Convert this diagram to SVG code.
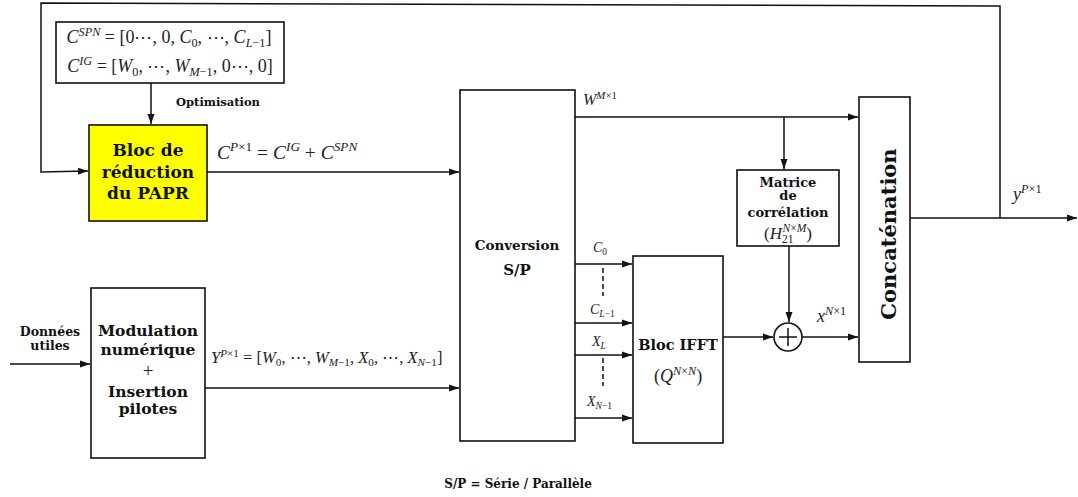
<svg xmlns="http://www.w3.org/2000/svg" width="1078" height="497" viewBox="0 0 1078 497">
<style>
.ln{fill:none;stroke:#111;stroke-width:1.5}
.bx{fill:#fff;stroke:#111;stroke-width:1.6}
.ar{marker-end:url(#ah)}
.b{font-family:"DejaVu Serif","Liberation Serif",serif;font-weight:bold;fill:#111;text-anchor:middle}
.m{font-family:"Liberation Serif","DejaVu Serif",serif;fill:#222}
.i{font-style:italic}
.s{font-size:0.68em;font-style:italic}
.u{font-size:0.68em}
</style>
<defs>
<marker id="ah" markerUnits="userSpaceOnUse" markerWidth="11" markerHeight="8" refX="10" refY="4" orient="auto">
<path d="M0,0.5 L10,4 L0,7.5 z" fill="#111"/>
</marker>
</defs>
<g id="connectors">
<polyline class="ln" points="1000,218 1000,6 41,3 41,172 88,171" marker-end="url(#ah)"/>
<line class="ln ar" x1="151" y1="83" x2="151" y2="124"/>
<line class="ln ar" x1="207" y1="172" x2="459" y2="172"/>
<line class="ln ar" x1="575" y1="117" x2="858" y2="117"/>
<line class="ln ar" x1="784" y1="117" x2="784" y2="169"/>
<line class="ln ar" x1="789" y1="246" x2="789" y2="322"/>
<line class="ln ar" x1="723" y1="337" x2="773" y2="337"/>
<line class="ln ar" x1="802" y1="337" x2="858" y2="337"/>
<line class="ln ar" x1="910" y1="218" x2="1077" y2="218"/>
<line class="ln ar" x1="575" y1="264" x2="632" y2="264"/>
<line class="ln ar" x1="575" y1="323" x2="632" y2="323"/>
<line class="ln ar" x1="575" y1="355" x2="632" y2="355"/>
<line class="ln ar" x1="575" y1="418" x2="632" y2="418"/>
<line class="ln" x1="603" y1="268" x2="603" y2="296" stroke-dasharray="5,3"/>
<line class="ln" x1="603" y1="358" x2="603" y2="386" stroke-dasharray="5,3"/>
<line class="ln ar" x1="10" y1="364" x2="90" y2="364"/>
<line class="ln ar" x1="205" y1="388" x2="459" y2="388"/>
</g>
<g id="formula">
<rect class="bx" x="56" y="22" width="228" height="61"/>
<text class="m" x="169" y="43" text-anchor="middle" style="font-size:18px"><tspan class="i">C</tspan><tspan class="s" dy="-7">SPN</tspan><tspan dy="7"> = [0⋯, 0, </tspan><tspan class="i">C</tspan><tspan class="u" dy="4">0</tspan><tspan dy="-4">, ⋯, </tspan><tspan class="i">C</tspan><tspan class="s" dy="4">L</tspan><tspan class="u">−1</tspan><tspan dy="-4">]</tspan></text>
<text class="m" x="170" y="72" text-anchor="middle" style="font-size:18px"><tspan class="i">C</tspan><tspan class="s" dy="-7">IG</tspan><tspan dy="7"> = [</tspan><tspan class="i">W</tspan><tspan class="u" dy="4">0</tspan><tspan dy="-4">, ⋯, </tspan><tspan class="i">W</tspan><tspan class="s" dy="4">M</tspan><tspan class="u">−1</tspan><tspan dy="-4">, 0⋯, 0]</tspan></text>
<text class="b" x="218" y="106" font-size="11.5">Optimisation</text>
</g>
<g id="papr">
<rect x="89" y="125" width="118" height="96" fill="#ffff00" stroke="#111" stroke-width="1.6"/>
<text class="b" x="148" y="156" font-size="17">Bloc de</text>
<text class="b" x="148" y="178" font-size="17">réduction</text>
<text class="b" x="148" y="199" font-size="17">du PAPR</text>
<text class="m" x="217" y="159" style="font-size:19.5px"><tspan class="i">C</tspan><tspan class="s" dy="-8">P</tspan><tspan class="u">×1</tspan><tspan dy="8"> = </tspan><tspan class="i">C</tspan><tspan class="s" dy="-8">IG</tspan><tspan dy="8"> + </tspan><tspan class="i">C</tspan><tspan class="s" dy="-8">SPN</tspan></text>
</g>
<g id="modulation">
<rect class="bx" x="91" y="288" width="114" height="170"/>
<text class="b" x="148" y="336" font-size="15.5">Modulation</text>
<text class="b" x="148" y="355" font-size="15.5">numérique</text>
<text class="m" x="148" y="377" text-anchor="middle" style="font-size:19px">+</text>
<text class="b" x="148" y="397" font-size="15.5">Insertion</text>
<text class="b" x="148" y="414" font-size="15.5">pilotes</text>
<text class="b" x="50" y="336" font-size="12.5">Données</text>
<text class="b" x="50" y="350" font-size="12.5">utiles</text>
<text class="m" x="211" y="363" style="font-size:16.5px"><tspan class="i">Y</tspan><tspan class="s" dy="-6">P</tspan><tspan class="u">×1</tspan><tspan dy="6"> = [</tspan><tspan class="i">W</tspan><tspan class="u" dy="3">0</tspan><tspan dy="-3">, ⋯, </tspan><tspan class="i">W</tspan><tspan class="s" dy="3">M</tspan><tspan class="u">−1</tspan><tspan dy="-3">, </tspan><tspan class="i">X</tspan><tspan class="u" dy="3">0</tspan><tspan dy="-3">, ⋯, </tspan><tspan class="i">X</tspan><tspan class="s" dy="3">N</tspan><tspan class="u">−1</tspan><tspan dy="-3">]</tspan></text>
</g>
<g id="conversion">
<rect class="bx" x="460" y="90" width="115" height="351"/>
<text class="b" x="517" y="250" font-size="13.5">Conversion</text>
<text class="b" x="517" y="275" font-size="15">S/P</text>
<text class="m" x="583" y="105" style="font-size:16px"><tspan class="i">W</tspan><tspan class="s" dy="-6">M</tspan><tspan class="u">×1</tspan></text>
<text class="m" x="593" y="252" style="font-size:14px"><tspan class="i">C</tspan><tspan class="u" dy="3">0</tspan></text>
<text class="m" x="590" y="314" style="font-size:14px"><tspan class="i">C</tspan><tspan class="s" dy="3">L</tspan><tspan class="u">−1</tspan></text>
<text class="m" x="592" y="346" style="font-size:14px"><tspan class="i">X</tspan><tspan class="s" dy="3">L</tspan></text>
<text class="m" x="587" y="406" style="font-size:14px"><tspan class="i">X</tspan><tspan class="s" dy="3">N</tspan><tspan class="u">−1</tspan></text>
</g>
<g id="ifft">
<rect class="bx" x="633" y="256" width="90" height="187"/>
<text class="b" x="678" y="350" font-size="14.5">Bloc IFFT</text>
<text class="m" x="678" y="382" text-anchor="middle" style="font-size:18px">(<tspan class="i">Q</tspan><tspan class="s" dy="-7">N</tspan><tspan class="u">×</tspan><tspan class="s">N</tspan><tspan dy="7">)</tspan></text>
</g>
<g id="matrice">
<rect class="bx" x="737" y="170" width="102" height="76"/>
<text class="b" x="788" y="187" font-size="13">Matrice</text>
<text class="b" x="788" y="200" font-size="13">de</text>
<text class="b" x="788" y="217" font-size="13">corrélation</text>
<text class="m" x="788" y="239" text-anchor="middle" style="font-size:17px">(<tspan class="i">H</tspan><tspan class="u" dy="4">21</tspan><tspan class="s" dx="-11" dy="-11">N</tspan><tspan class="u">×</tspan><tspan class="s">M</tspan><tspan dy="7">)</tspan></text>
</g>
<g id="somme">
<circle cx="788" cy="337" r="14" fill="#fff" stroke="#111" stroke-width="1.6"/>
<line class="ln" x1="779" y1="337" x2="797" y2="337"/>
<line class="ln" x1="788" y1="328" x2="788" y2="346"/>
<text class="m" x="817" y="322" style="font-size:18px"><tspan class="i">x</tspan><tspan class="s" dy="-7">N</tspan><tspan class="u">×1</tspan></text>
</g>
<g id="concatenation">
<rect class="bx" x="859" y="97" width="51" height="265"/>
<text class="b" font-size="21" transform="translate(896,234) rotate(-90)">Concaténation</text>
<text class="m" x="1013" y="200" style="font-size:18px"><tspan class="i">y</tspan><tspan class="s" dy="-7">P</tspan><tspan class="u">×1</tspan></text>
</g>
<text class="b" x="518" y="488" font-size="12">S/P = Série / Parallèle</text>
</svg>
